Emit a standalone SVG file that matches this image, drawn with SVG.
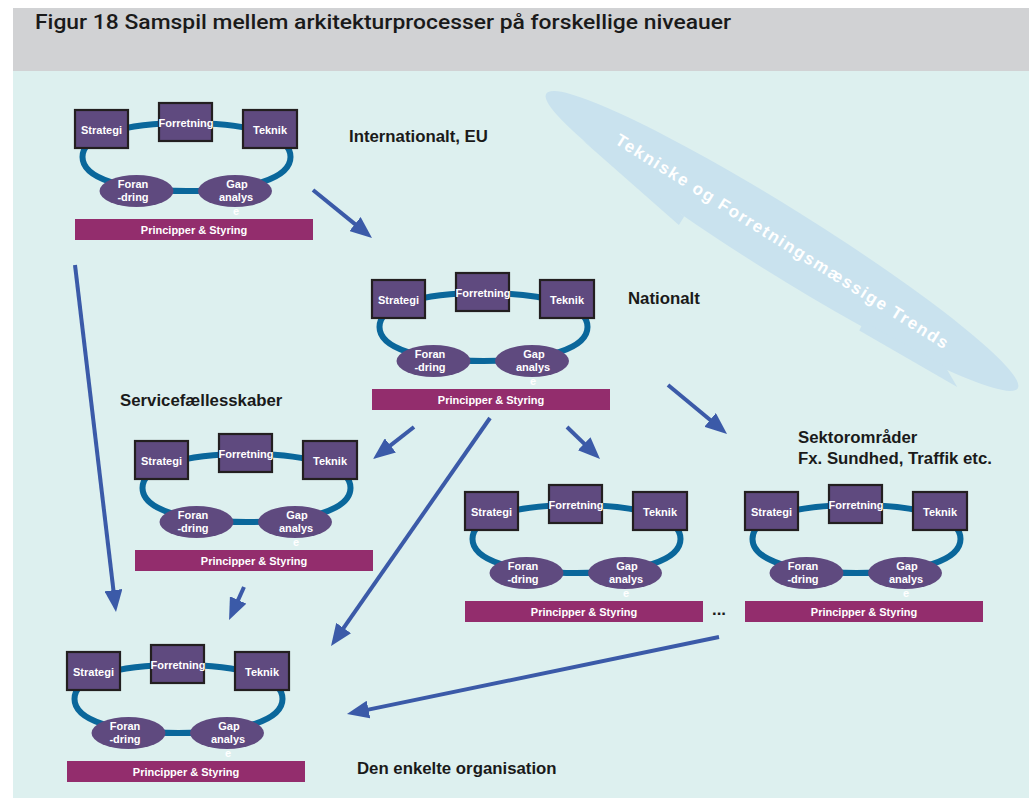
<svg xmlns="http://www.w3.org/2000/svg" width="1029" height="798" viewBox="0 0 1029 798">
  <style>
    .ring { fill: none; stroke: #0a679b; stroke-width: 6; }
    .box { fill: #5f4a7f; stroke: #231f20; stroke-width: 2.2; }
    .oval { fill: #5f4a7f; }
    .bar { fill: #932d6d; }
    .nt { font-family: "Liberation Sans", Arial, sans-serif; font-weight: bold; font-size: 11px; fill: #ffffff; text-anchor: middle; }
    .lbl { font-family: "Liberation Sans", Arial, sans-serif; font-weight: bold; font-size: 16.8px; fill: #1a1a1a; }
    .arrow { stroke: #3b5aa8; stroke-width: 4; fill: none; marker-end: url(#head); }
  </style>
  <defs>
    <marker id="head" markerUnits="userSpaceOnUse" markerWidth="22" markerHeight="18" refX="10" refY="9" orient="auto">
      <path d="M0,0 L22,9 L0,18 z" fill="#3b5aa8"/>
    </marker>
    <!-- loop joining the five steps of one cycle -->
    <path id="loop" d="M290.5,157 C290.5,178 251,191 186.5,191 C122,191 82.5,178 82.5,157 C82.5,136 122,123 186.5,123 C251,123 290.5,136 290.5,157 Z"/>
  </defs>

  <!-- page background -->
  <rect x="0" y="0" width="1029" height="798" fill="#ffffff"/>
  <rect x="13" y="8" width="1016" height="63" fill="#d1d2d4"/>
  <rect x="13" y="71" width="1016" height="727" fill="#ddf0ef"/>
  <text x="35" y="29" font-family="Roboto, 'Liberation Sans', sans-serif" font-weight="500" font-size="21" fill="#1a1a1a" textLength="696" lengthAdjust="spacingAndGlyphs">Figur 18 Samspil mellem arkitekturprocesser på forskellige niveauer</text>

  <!-- trend band -->
  <g id="trends" transform="translate(782,241) rotate(32)">
    <ellipse cx="0" cy="0" rx="278" ry="33" fill="#c9e2ee"/>
    <polygon points="-224,20 -96,41 -96,31 -150,26" fill="#c9e2ee"/>
    <polygon points="112,25 113,35 226,31 205,20" fill="#c9e2ee"/>
    <text x="0" y="6" font-family="'Liberation Sans', Arial, sans-serif" font-weight="bold" font-size="17" fill="#ffffff" text-anchor="middle" textLength="389" lengthAdjust="spacing">Tekniske og Forretningsmæssige Trends</text>
  </g>

  <!-- level labels -->
  <g id="labels">
    <text class="lbl" x="349" y="142">Internationalt, EU</text>
    <text class="lbl" x="628" y="304">Nationalt</text>
    <text class="lbl" x="120" y="406">Servicefællesskaber</text>
    <text class="lbl" x="798" y="443">Sektorområder</text>
    <text class="lbl" x="798" y="464">Fx. Sundhed, Traffik etc.</text>
    <text class="lbl" x="357" y="774">Den enkelte organisation</text>
    <text class="lbl" x="712" y="615" font-size="14">...</text>
  </g>

  <!-- connectors -->
  <g id="connectors">
    <line class="arrow" x1="313" y1="190" x2="362.7" y2="230.4"/>
    <line class="arrow" x1="75" y1="265" x2="114.6" y2="600.1"/>
    <line class="arrow" x1="414" y1="427" x2="382.5" y2="451.6"/>
    <line class="arrow" x1="490" y1="418" x2="337.9" y2="636.2"/>
    <line class="arrow" x1="567" y1="427" x2="591.4" y2="450.6"/>
    <line class="arrow" x1="668" y1="385" x2="717.8" y2="426.3"/>
    <line class="arrow" x1="244" y1="587" x2="234" y2="609.1"/>
    <line class="arrow" x1="719" y1="637" x2="358.7" y2="711.6"/>
  </g>

  <!-- process cycle: international -->
  <g id="international" transform="translate(0,0)">
    <use href="#loop" class="ring"/>
    <rect class="box" x="75" y="110" width="53" height="38"/>
    <rect class="box" x="159" y="103" width="53" height="38"/>
    <rect class="box" x="243" y="110" width="54" height="38"/>
    <ellipse class="oval" cx="136.5" cy="191" rx="37" ry="16"/>
    <ellipse class="oval" cx="235" cy="191" rx="37" ry="16"/>
    <rect class="bar" x="75" y="219" width="238" height="21"/>
    <text class="nt" x="101.5" y="134">Strategi</text>
    <text class="nt" x="186" y="127">Forretning</text>
    <text class="nt" x="270" y="134">Teknik</text>
    <text class="nt" x="133" y="188">Foran</text>
    <text class="nt" x="133" y="201">-dring</text>
    <text class="nt" x="237" y="188">Gap</text>
    <text class="nt" x="236" y="201">analys</text>
    <text class="nt" x="236" y="215">e</text>
    <text class="nt" x="194" y="234">Principper &amp; Styring</text>
  </g>

  <!-- process cycle: national -->
  <g id="national" transform="translate(297,170)">
    <use href="#loop" class="ring"/>
    <rect class="box" x="75" y="110" width="53" height="38"/>
    <rect class="box" x="159" y="103" width="53" height="38"/>
    <rect class="box" x="243" y="110" width="54" height="38"/>
    <ellipse class="oval" cx="136.5" cy="191" rx="37" ry="16"/>
    <ellipse class="oval" cx="235" cy="191" rx="37" ry="16"/>
    <rect class="bar" x="75" y="219" width="238" height="21"/>
    <text class="nt" x="101.5" y="134">Strategi</text>
    <text class="nt" x="186" y="127">Forretning</text>
    <text class="nt" x="270" y="134">Teknik</text>
    <text class="nt" x="133" y="188">Foran</text>
    <text class="nt" x="133" y="201">-dring</text>
    <text class="nt" x="237" y="188">Gap</text>
    <text class="nt" x="236" y="201">analys</text>
    <text class="nt" x="236" y="215">e</text>
    <text class="nt" x="194" y="234">Principper &amp; Styring</text>
  </g>

  <!-- process cycle: shared services -->
  <g id="service" transform="translate(60,331)">
    <use href="#loop" class="ring"/>
    <rect class="box" x="75" y="110" width="53" height="38"/>
    <rect class="box" x="159" y="103" width="53" height="38"/>
    <rect class="box" x="243" y="110" width="54" height="38"/>
    <ellipse class="oval" cx="136.5" cy="191" rx="37" ry="16"/>
    <ellipse class="oval" cx="235" cy="191" rx="37" ry="16"/>
    <rect class="bar" x="75" y="219" width="238" height="21"/>
    <text class="nt" x="101.5" y="134">Strategi</text>
    <text class="nt" x="186" y="127">Forretning</text>
    <text class="nt" x="270" y="134">Teknik</text>
    <text class="nt" x="133" y="188">Foran</text>
    <text class="nt" x="133" y="201">-dring</text>
    <text class="nt" x="237" y="188">Gap</text>
    <text class="nt" x="236" y="201">analys</text>
    <text class="nt" x="236" y="215">e</text>
    <text class="nt" x="194" y="234">Principper &amp; Styring</text>
  </g>

  <!-- process cycle: sector A -->
  <g id="sector-a" transform="translate(390,382)">
    <use href="#loop" class="ring"/>
    <rect class="box" x="75" y="110" width="53" height="38"/>
    <rect class="box" x="159" y="103" width="53" height="38"/>
    <rect class="box" x="243" y="110" width="54" height="38"/>
    <ellipse class="oval" cx="136.5" cy="191" rx="37" ry="16"/>
    <ellipse class="oval" cx="235" cy="191" rx="37" ry="16"/>
    <rect class="bar" x="75" y="219" width="238" height="21"/>
    <text class="nt" x="101.5" y="134">Strategi</text>
    <text class="nt" x="186" y="127">Forretning</text>
    <text class="nt" x="270" y="134">Teknik</text>
    <text class="nt" x="133" y="188">Foran</text>
    <text class="nt" x="133" y="201">-dring</text>
    <text class="nt" x="237" y="188">Gap</text>
    <text class="nt" x="236" y="201">analys</text>
    <text class="nt" x="236" y="215">e</text>
    <text class="nt" x="194" y="234">Principper &amp; Styring</text>
  </g>

  <!-- process cycle: sector B -->
  <g id="sector-b" transform="translate(670,382)">
    <use href="#loop" class="ring"/>
    <rect class="box" x="75" y="110" width="53" height="38"/>
    <rect class="box" x="159" y="103" width="53" height="38"/>
    <rect class="box" x="243" y="110" width="54" height="38"/>
    <ellipse class="oval" cx="136.5" cy="191" rx="37" ry="16"/>
    <ellipse class="oval" cx="235" cy="191" rx="37" ry="16"/>
    <rect class="bar" x="75" y="219" width="238" height="21"/>
    <text class="nt" x="101.5" y="134">Strategi</text>
    <text class="nt" x="186" y="127">Forretning</text>
    <text class="nt" x="270" y="134">Teknik</text>
    <text class="nt" x="133" y="188">Foran</text>
    <text class="nt" x="133" y="201">-dring</text>
    <text class="nt" x="237" y="188">Gap</text>
    <text class="nt" x="236" y="201">analys</text>
    <text class="nt" x="236" y="215">e</text>
    <text class="nt" x="194" y="234">Principper &amp; Styring</text>
  </g>

  <!-- process cycle: single organisation -->
  <g id="organisation" transform="translate(-8,542)">
    <use href="#loop" class="ring"/>
    <rect class="box" x="75" y="110" width="53" height="38"/>
    <rect class="box" x="159" y="103" width="53" height="38"/>
    <rect class="box" x="243" y="110" width="54" height="38"/>
    <ellipse class="oval" cx="136.5" cy="191" rx="37" ry="16"/>
    <ellipse class="oval" cx="235" cy="191" rx="37" ry="16"/>
    <rect class="bar" x="75" y="219" width="238" height="21"/>
    <text class="nt" x="101.5" y="134">Strategi</text>
    <text class="nt" x="186" y="127">Forretning</text>
    <text class="nt" x="270" y="134">Teknik</text>
    <text class="nt" x="133" y="188">Foran</text>
    <text class="nt" x="133" y="201">-dring</text>
    <text class="nt" x="237" y="188">Gap</text>
    <text class="nt" x="236" y="201">analys</text>
    <text class="nt" x="236" y="215">e</text>
    <text class="nt" x="194" y="234">Principper &amp; Styring</text>
  </g>
</svg>
